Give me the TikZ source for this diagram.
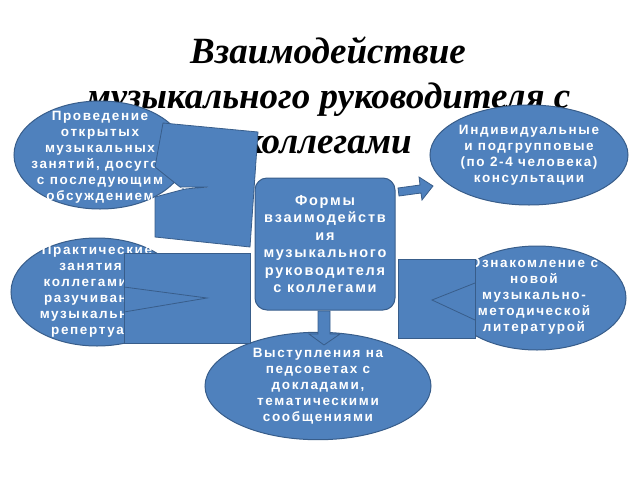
\documentclass[tikz,border=0pt]{standalone}
\usepackage{fontspec}
\setmainfont{Liberation Sans}
\newfontfamily\titlefont{Liberation Serif}
\newfontfamily\widefont[LetterSpace=12]{Liberation Sans}
\usetikzlibrary{shapes.geometric}
\definecolor{blockfill}{HTML}{4F81BD}
\definecolor{blockline}{HTML}{385D8A}

\tikzset{
  oval/.style={ellipse, fill=blockfill, draw=blockline, line width=1pt, inner sep=0pt,
    text=white, font=\widefont\bfseries\fontsize{13.5}{16}\selectfont, align=center},
  ovaltext/.style={text=white, font=\widefont\bfseries\fontsize{13.5}{16}\selectfont, align=center},
  piece/.style={fill=blockfill, draw=blockline, line width=0.8pt},
}

\begin{document}
\begin{tikzpicture}[x=1pt,y=-1pt]
    \useasboundingbox (0,0) rectangle (640,480);

    % Title
    \node[font=\titlefont\bfseries\itshape\fontsize{37}{45}\selectfont, align=center] (title) at (328,95)
      {Взаимодействие\\музыкального руководителя с\\коллегами};

    % Ovals
    \node[oval, minimum width=172, minimum height=108] (open) at (100,155) {};
    \node[ovaltext] (opentext) at (100,157)
      {Проведение\\открытых\\музыкальных\\занятий, досугов\\с последующим\\обсуждением};
    \node[oval, minimum width=172, minimum height=108] (practice) at (97,292) {};
    \node[ovaltext] (practicetext) at (97,291)
      {Практические\\занятия с\\коллегами по\\разучиванию\\музыкального\\репертуара};
    \node[oval, minimum width=196, minimum height=100] (consult) at (529,155)
      {Индивидуальные\\и подгрупповые\\(по 2-4 человека)\\консультации};
    \node[oval, minimum width=178, minimum height=104] (reading) at (537,298) {};
    \node[ovaltext] (readingtext) at (534,296)
      {Ознакомление с\\новой\\музыкально-\\методической\\литературой};
    \node[oval, minimum width=226, minimum height=92] (talks) at (318,386)
      {Выступления на\\педсоветах с\\докладами,\\тематическими\\сообщениями};

    % Centre box
    \node[fill=blockfill, draw=blockline, line width=1pt, rounded corners=12pt,
      minimum width=140, minimum height=132, text=white, align=center,
      font=\widefont\bfseries\fontsize{14.5}{17.5}\selectfont] (forms) at (325,244)
      {Формы\\взаимодейств\\ия\\музыкального\\руководителя\\с коллегами};

    % Broken arrow pieces
    \draw[piece] (163,123) -- (258,132) -- (250,247) -- (155,237) -- (155,197)
      -- (185,189) -- (180,187) -- (155,167) -- cycle;
    \fill[white] (185,189) -- (208,187) -- (180,187) -- cycle;
    \draw[blockline, line width=0.8pt] (185,189) -- (208,187) -- (180,187);
    \draw[piece] (124,253) -- (250,253) -- (250,343) -- (124,343) -- cycle;
    \draw[blockline, line width=0.8pt] (124,312) -- (207,298) -- (124,287);
    \draw[piece] (398,259) -- (475,259) -- (475,338) -- (398,338) -- cycle;
    \draw[blockline, line width=0.8pt] (475,283) -- (432,300) -- (475,320);

    % Block arrows
    \draw[piece] (398,188) -- (420,185) -- (419,177) -- (433,186) -- (422,200)
      -- (421,193) -- (399,196) -- cycle;
    \draw[piece] (318,311) -- (330,311) -- (330,334) -- (340,334) -- (324,345)
      -- (309,334) -- (318,334) -- cycle;
\end{tikzpicture}
\end{document}
